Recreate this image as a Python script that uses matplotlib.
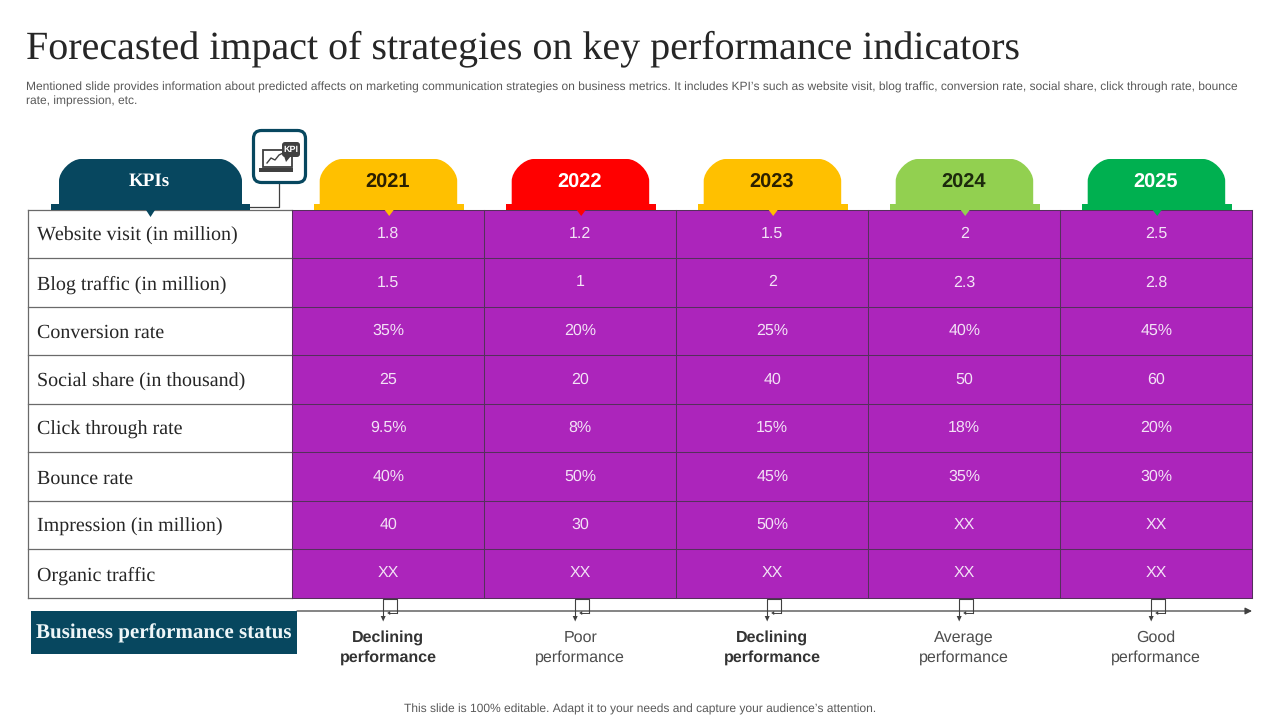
import matplotlib
matplotlib.use("Agg")
from matplotlib import pyplot as plt
from matplotlib.patches import Rectangle, FancyBboxPatch, Polygon, PathPatch
from matplotlib.path import Path

plt.rcParams["text.hinting"] = "no_hinting"
plt.rcParams["text.hinting_factor"] = 1

title = "Forecasted impact of strategies on key performance indicators"
subtitle = ["Mentioned slide provides information about predicted affects on marketing communication strategies on business metrics. It includes KPI\u2019s such as website visit, blog traffic, conversion rate, social share, click through rate, bounce",
            "rate, impression, etc."]
footer = "This slide is 100% editable. Adapt it to your needs and capture your audience\u2019s attention."

years = ["2021", "2022", "2023", "2024", "2025"]
year_colors = ["#FFC000", "#FF0000", "#FFC000", "#92D050", "#00B050"]
year_text = ["#2b2000", "#ffffff", "#2b2000", "#1c2a0c", "#ffffff"]
kpis = ["Website visit (in million)", "Blog traffic (in million)", "Conversion rate",
        "Social share (in thousand)", "Click through rate", "Bounce rate",
        "Impression (in million)", "Organic traffic"]
col_2021 = ["1.8", "1.5", "35%", "25", "9.5%", "40%", "40", "XX"]
col_2022 = ["1.2", "1", "20%", "20", "8%", "50%", "30", "XX"]
col_2023 = ["1.5", "2", "25%", "40", "15%", "45%", "50%", "XX"]
col_2024 = ["2", "2.3", "40%", "50", "18%", "35%", "XX", "XX"]
col_2025 = ["2.5", "2.8", "45%", "60", "20%", "30%", "XX", "XX"]
columns = [col_2021, col_2022, col_2023, col_2024, col_2025]
status = ["Declining\nperformance", "Poor\nperformance", "Declining\nperformance",
          "Average\nperformance", "Good\nperformance"]
status_bold = [True, False, True, False, False]

NAVY = "#07475F"
PURPLE = "#AC25BB"
SERIF = "Liberation Serif"
SANS = "Liberation Sans"

fig = plt.figure(figsize=(12.8, 7.2), dpi=100)
ax = fig.add_axes([0, 0, 1, 1])
ax.set_xlim(0, 1280)
ax.set_ylim(720, 0)
ax.axis("off")


def draw_tab(x0, x1, top, px0, px1, color, tip):
    # rounded tab sitting on a thin plate, with a small notch below it
    r = 22
    k = 0.45 * r
    verts = [(x0, 206), (x0, top + r), (x0, top + r - k), (x0 + r - k, top), (x0 + r, top),
             (x1 - r, top), (x1 - r + k, top), (x1, top + r - k), (x1, top + r), (x1, 206), (x0, 206)]
    codes = [Path.MOVETO, Path.LINETO, Path.CURVE4, Path.CURVE4, Path.CURVE4,
             Path.LINETO, Path.CURVE4, Path.CURVE4, Path.CURVE4, Path.LINETO, Path.CLOSEPOLY]
    ax.add_patch(PathPatch(Path(verts, codes), fc=color, ec="none", zorder=3))
    ax.add_patch(Rectangle((px0, 203.5), px1 - px0, 6.5, fc=color, ec="none", zorder=3))
    mid = (px0 + px1) / 2
    ax.add_patch(Polygon([(mid - 4.5, 210), (mid + 4.5, 210), (mid, tip)], fc=color, ec="none", zorder=5))


ax.text(26, 58, title, family=SERIF, fontsize=28.45, color="#262626", va="baseline", ha="left")
ax.text(26, 87.8, subtitle[0], family=SANS, fontsize=8.65, color="#595959", va="center")
ax.text(26, 101.8, subtitle[1], family=SANS, fontsize=8.65, color="#595959", va="center")
ax.text(640, 709, footer, family=SANS, fontsize=8.7, color="#595959", va="center", ha="center")

# table
row_y = [209.8 + 48.5 * i for i in range(len(kpis) + 1)]
col_x = [292.2 + 192 * i for i in range(len(years) + 1)]
ax.add_patch(Rectangle((col_x[0], row_y[0]), col_x[-1] - col_x[0], row_y[-1] - row_y[0], fc=PURPLE, ec="none", zorder=1))
for y in row_y:
    ax.plot([col_x[0], col_x[-1]], [y, y], color="#55305c", lw=0.75, zorder=2)
    ax.plot([27.5, col_x[0]], [y, y], color="#6a6a6a", lw=0.9, zorder=2)
for x in col_x:
    ax.plot([x, x], [row_y[0], row_y[-1]], color="#55305c", lw=0.75, zorder=2)
ax.plot([27.5, 27.5], [row_y[0], row_y[-1]], color="#6a6a6a", lw=0.9, zorder=2)

for i, name in enumerate(kpis):
    cy = (row_y[i] + row_y[i + 1]) / 2
    ax.text(37, cy + 7, name, family=SERIF, fontsize=14.4, color="#262626", va="baseline")
    for j, col in enumerate(columns):
        ax.text((col_x[j] + col_x[j + 1]) / 2, cy + 3.8, col[i], family=SANS, fontsize=11.7,
                color="#f3e2f6", va="baseline", ha="center")

# header tabs
draw_tab(59, 242, 159, 51, 250, NAVY, 217)
ax.text(149, 181.5, "KPIs", family=SERIF, fontsize=13.5, weight="bold", color="white", va="center", ha="center", zorder=6)
for j, year in enumerate(years):
    cx = (col_x[j] + col_x[j + 1]) / 2
    draw_tab(cx - 68.5, cx + 69, 159, cx - 74, cx + 76, year_colors[j], 216)
    ax.text(cx - 1, 183, year, family=SANS, fontsize=14.5, weight="bold", color=year_text[j], va="center", ha="center", zorder=6)

# kpi icon
ax.plot([279, 279, 250], [184, 207, 207], color="#404040", lw=0.9, zorder=2)
ax.add_patch(FancyBboxPatch((253.5, 130.5), 52, 52, boxstyle="round,pad=0,rounding_size=8", fc="white", ec=NAVY, lw=2.3, zorder=4))
ax.add_patch(Rectangle((263, 149.5), 28.5, 17.5, fc="white", ec="#404040", lw=1.3, zorder=5))
ax.add_patch(Rectangle((259, 168), 34, 4, fc="#404040", ec="none", zorder=5))
ax.plot([267, 271, 275, 279, 283], [163, 158, 160, 155, 153], color="#404040", lw=1, zorder=5)
ax.add_patch(FancyBboxPatch((282, 142), 18, 15, boxstyle="round,pad=0,rounding_size=3", fc="#404040", ec="none", zorder=6))
ax.add_patch(Polygon([(284, 156), (291, 156), (286, 162)], fc="#404040", ec="none", zorder=6))
ax.text(291, 149.7, "KPI", family=SANS, fontsize=6.6, weight="bold", color="white", va="center", ha="center", zorder=7)

# status row
ax.add_patch(Rectangle((31, 610.5), 266, 43.5, fc=NAVY, ec="none", zorder=3))
ax.text(164, 638.5, "Business performance status", family=SERIF, fontsize=15.3, weight="bold", color="#eef6f8", va="baseline", ha="center", zorder=4)
ax.annotate("", xy=(1252, 611), xytext=(297, 611),
            arrowprops=dict(arrowstyle="-|>", color="#404040", lw=0.9, mutation_scale=10, shrinkA=0, shrinkB=0), zorder=2)
for j, text in enumerate(status):
    cx = (col_x[j] + col_x[j + 1]) / 2
    bx = cx - 5
    ax.plot([bx + 14, bx + 14, bx, bx], [613, 598.5, 598.5, 616], color="#404040", lw=0.8, zorder=4)
    ax.add_patch(Polygon([(bx - 2.5, 616), (bx + 2.5, 616), (bx, 621.5)], fc="#404040", ec="none", zorder=4))
    ax.plot([bx + 14, bx + 6], [613, 613], color="#404040", lw=0.7, zorder=4)
    ax.add_patch(Polygon([(bx + 4, 613), (bx + 7, 611), (bx + 7, 615)], fc="#404040", ec="none", zorder=4))
    ax.text(cx, 647.5, text, family=SANS, fontsize=11.7, weight="bold" if status_bold[j] else "normal",
            color="#333333" if status_bold[j] else "#4d4d4d", va="center", ha="center", linespacing=1.4)

fig.savefig("out.png", dpi=100)
